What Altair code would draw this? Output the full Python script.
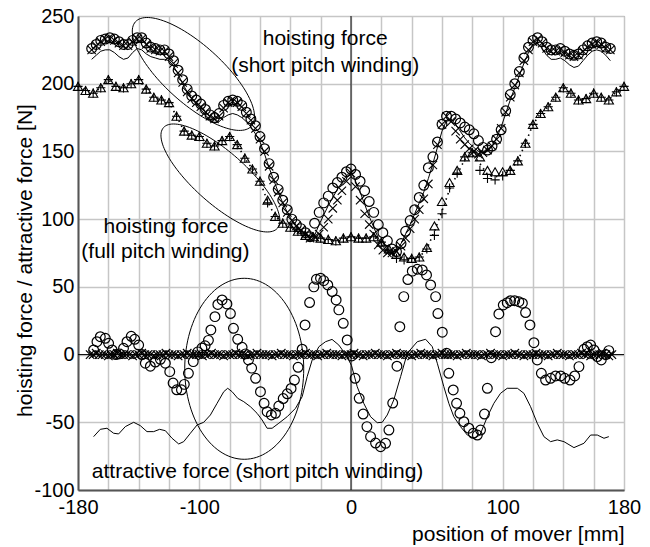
import altair as alt
import pandas as pd
import numpy as np

FONT = "Liberation Sans"

# ---------------- data ----------------
# hoisting force, short pitch winding (x = -171, -168, ..., 171)
SP_START, SP_STEP = -171, 3
SP_CIRCLE = [226,229,232,233,234,233,231,229,229,232,
             234,234,230,227,226,225,225,222,217,210,
             203,196,191,188,185,181,177,175,178,184,
             187,188,187,184,179,174,169,161,152,141,
             131,122,114,107,100,96,93,90,87,97,
             105,112,117,123,127,131,135,137,133,128,
             121,113,105,96,90,84,78,76,82,91,
             99,107,116,125,138,146,157,170,176,176,
             174,171,168,166,163,158,153,151,154,159,
             166,180,192,200,209,219,227,232,234,231,
             227,225,225,226,224,222,221,222,225,228,
             230,231,230,227,226]
SP_CROSS = [225,228,231,233,233,232,230,228,228,231,
            233,233,229,226,225,224,224,220,215,208,
            201,194,189,186,183,179,176,174,176,182,
            186,187,186,183,178,173,167,159,150,139,
            129,120,112,105,99,95,92,89,86,87,
            89,94,100,108,114,121,128,134,124,114,
            104,96,89,81,77,75,75,76,80,86,
            93,100,107,115,126,140,155,170,176,172,
            165,159,155,152,150,148,149,151,154,159,
            167,179,190,199,208,217,225,231,233,230,
            226,224,224,225,223,221,220,221,224,227,
            229,230,229,226,225]
SP_LINE = [218,221,224,225,225,223,220,218,219,223,
           226,225,222,220,219,218,218,217,213,207,
           200,194,189,185,181,177,173,171,172,175,
           177,178,177,175,172,168,163,157,148,138,
           129,120,112,105,99,94,91,88,86,88,
           96,103,110,116,122,127,132,135,128,120,
           111,102,94,86,80,76,75,77,82,89,
           96,104,112,120,130,141,153,165,173,174,
           170,165,160,156,153,150,149,150,154,160,
           168,178,188,197,206,215,223,229,230,226,
           221,218,218,219,217,214,212,213,217,221,
           224,225,224,221,217]

# hoisting force, full pitch winding (x = -180, -175, ..., 180)
FP_START, FP_STEP = -180, 5
FP_TRI = [198,195,193,197,203,198,197,200,203,196,
          190,188,186,176,165,162,161,156,154,158,
          161,155,145,137,128,114,102,97,94,91,
          88,87,86,85,84,86,87,86,86,87,
          83,78,74,72,71,72,79,95,113,127,
          136,146,149,146,136,135,135,136,143,156,
          170,178,183,190,197,193,188,189,193,190,
          188,194,198]
FP_PLUS = [198,195,193,197,203,198,197,200,203,196,
           190,188,186,176,165,162,161,156,154,158,
           161,155,145,137,128,112,102,97,94,91,
           88,87,86,85,84,86,87,86,86,87,
           83,77,71,70,71,72,78,88,104,123,
           134,146,149,136,130,129,132,136,143,156,
           170,178,183,190,197,193,188,189,193,190,
           188,194,198]
FP_DOT = [198,195,193,197,203,198,197,200,203,196,
          190,188,186,176,165,162,161,156,154,158,
          161,155,145,137,128,113,102,97,94,91,
          88,87,86,85,84,86,87,86,86,87,
          83,77,73,71,71,72,78,91,106,122,
          133,144,148,141,133,131,133,136,143,156,
          170,178,183,190,197,193,188,189,193,190,
          188,194,198]

# attractive force series
AT_CIRCLES = [(-169.7,3.4),(-167.5,9.5),(-165.3,13.2),(-162.0,12.0),(-159.8,8.3),(-157.5,3.4),
              (-155.0,0.0),(-152.5,0.5),(-150.0,4.6),(-147.7,9.5),(-144.9,13.5),(-142.6,11.3),
              (-140.0,7.0),(-137.8,0.0),(-135.6,-6.4),(-132.3,-8.6),(-129.0,-5.5),(-125.7,-3.5),
              (-122.4,-6.4),(-119.5,-12.6),(-117.3,-21.0),(-114.9,-26.0),(-111.8,-26.0),(-109.9,-22.0),
              (-107.2,-13.8),(-104.0,-5.2),(-101.0,2.0),(-98.3,4.8),(-96.2,6.5),(-94.0,10.5),
              (-92.4,18.2),(-89.7,28.0),(-87.8,37.0),(-85.0,40.3),(-81.8,37.4),(-79.5,30.3),
              (-77.5,19.4),(-74.7,11.3),(-71.8,5.4),(-69.6,0.5),(-67.6,-4.0),(-65.5,-10.0),
              (-62.9,-17.5),(-59.7,-27.4),(-57.3,-36.0),(-55.3,-42.2),(-52.5,-44.6),(-49.8,-43.4),
              (-47.6,-38.0),(-44.7,-32.5),(-42.0,-29.0),(-39.5,-25.0),(-37.3,-18.8),(-34.9,-9.4),
              (-32.2,4.0),(-30.3,21.9),(-27.3,38.4),(-24.5,50.0),(-22.8,55.6),(-20.1,56.4),
              (-18.0,54.6),(-15.3,51.4),(-12.4,46.5),(-9.8,40.3),(-8.0,33.0),(-5.1,23.1),
              (-2.5,10.8),(0.5,-1.0),(2.7,-17.5),(5.4,-32.3),(8.0,-43.9),(10.5,-53.2),
              (12.9,-60.6),(16.2,-65.3),(19.5,-68.0),(22.8,-65.5),(25.0,-55.7),(27.5,-35.8),
              (30.3,-8.6),(32.2,20.6),(34.8,42.8),(37.5,55.4),(40.4,61.6),(43.7,63.0),
              (47.0,62.5),(49.8,58.8),(52.5,51.4),(55.8,42.8),(57.3,30.3),(60.2,16.5),
              (63.0,1.0),(64.5,-13.8),(67.4,-26.1),(69.6,-36.0),(71.8,-43.4),(74.4,-49.6),
              (77.7,-54.4),(80.6,-58.1),(83.3,-59.4),(85.4,-55.7),(88.0,-43.9),(89.9,-24.9),
              (92.5,-2.3),(95.3,16.9),(97.5,30.0),(100.4,36.6),(103.0,38.3),(105.2,39.8),
              (107.9,39.8),(110.7,39.0),(113.0,37.9),(115.1,31.0),(118.0,21.9),(120.6,8.8),
              (122.8,-4.0),(125.5,-13.8),(128.3,-18.8),(131.6,-17.5),(134.9,-15.8),(138.2,-15.8),
              (140.9,-17.5),(144.4,-18.8),(147.5,-15.8),(150.3,-8.9),(153.6,3.9),(155.8,5.8),
              (158.0,7.0),(160.2,3.4),(162.4,-1.5),(165.0,-4.0),(168.0,0.0),(170.0,2.9)]
AT_LINE = [(-169.7,-60.6),(-165.3,-55.2),(-160.9,-54.4),(-156.5,-58.1),(-153.2,-58.6),(-148.8,-53.2),
           (-143.3,-50.0),(-138.9,-52.5),(-134.5,-56.9),(-130.1,-56.9),(-126.2,-55.2),(-122.4,-56.2),
           (-118.0,-61.8),(-113.6,-66.0),(-110.3,-64.3),(-105.9,-58.1),(-101.5,-52.0),(-97.1,-50.0),
           (-92.7,-44.6),(-88.3,-36.0),(-83.9,-27.4),(-81.3,-24.9),(-78.4,-27.4),(-74.7,-32.3),
           (-70.7,-34.8),(-66.3,-38.5),(-61.9,-43.4),(-58.6,-48.3),(-55.3,-54.4),(-52.0,-54.4),
           (-47.6,-50.7),(-42.1,-45.9),(-36.6,-39.7),(-32.2,-31.1),(-28.9,-16.3),(-25.6,-4.0),
           (-21.2,5.8),(-16.8,9.5),(-12.5,11.2),(-8.0,7.0),(-4.8,2.0),(-2.5,-2.0),
           (0.3,-8.0),(4.1,-23.7),(8.4,-36.0),(12.9,-45.9),(17.3,-50.3),(20.6,-50.0),
           (23.9,-44.6),(28.2,-33.5),(32.7,-16.3),(37.1,1.0),(43.7,9.5),(49.2,11.3),
           (53.6,5.8),(56.9,-6.4),(61.2,-23.7),(64.5,-36.0),(67.8,-45.9),(72.2,-53.2),
           (76.7,-59.4),(81.0,-61.8),(85.0,-59.4),(89.9,-45.9),(94.2,-36.0),(98.6,-28.6),
           (103.0,-24.9),(109.7,-24.9),(114.0,-28.6),(118.4,-38.5),(122.8,-50.7),(127.2,-60.6),
           (131.6,-64.3),(136.0,-63.0),(140.4,-64.3),(147.0,-68.7),(153.6,-65.5),(158.0,-59.4),
           (162.4,-59.4),(166.8,-61.8),(170.0,-60.6)]
AT_X_START, AT_X_STEP = -172, 2
AT_CROSS = [0,0,1,0,0,0,-1,0,0,1, 0,0,0,0,-1,0,0,1,0,0, 0,-1,0,0,0,1,0,0,0,-1,
            0,0,1,0,0,0,0,-1,0,0, 1,0,0,0,-1,0,0,0,1,0, 0,0,-1,0,0,1,0,0,0,0,
            -1,0,0,1,0,0,0,-1,0,0, 0,1,0,0,0,-1,0,0,1,0, 0,0,0,-1,0,0,0,1,0,0,
            -1,0,0,0,1,0,0,0,-1,0, 0,1,0,0,0,0,-1,0,0,1, 0,0,0,-1,0,0,1,0,0,0,
            0,-1,0,0,1,0,0,0,0,-1, 0,0,1,0,0,0,-1,0,0,0, 1,0,0,-1,0,0,0,1,0,0,
            0,-1,0,0,1,0,0,0,-1,0, 0,0,1,0,0,-1,0,0,0,1, 0,-1,0]

# annotation texts
TXT_LABELS = ["hoisting force", "(short pitch winding)", "hoisting force",
              "(full pitch winding)", "attractive force (short pitch winding)"]
TXT_X = [-17, -17, -122, -122.4, -61.6]
TXT_Y = [228.7, 209, 89.6, 71, -91.4]

# ---------------- layout ----------------
W, H = 546, 474
X_DOM, Y_DOM = [-180, 180], [-100, 250]
XS = W / (X_DOM[1] - X_DOM[0])
YS = H / (Y_DOM[1] - Y_DOM[0])

# ellipses: center (data units), semi axes (px), rotation (deg)
ELLIPSES = [(-103.9, 207.2, 78, 29, 42), (-86.1, 130.4, 76, 26, 41.5), (-70.4, -10.5, 59.5, 90.5, 0)]

def grid_df(start, step, vals):
    return pd.DataFrame({"x": [start + step * i for i in range(len(vals))], "y": vals})

ell_rows = []
for k, (cx, cy, a, b, ang) in enumerate(ELLIPSES):
    th = np.radians(ang)
    for i, t in enumerate(np.linspace(0, 2 * np.pi, 121)):
        dx = a * np.cos(t) * np.cos(th) - b * np.sin(t) * np.sin(th)
        dy = a * np.cos(t) * np.sin(th) + b * np.sin(t) * np.cos(th)
        ell_rows.append({"e": k, "i": i, "x": cx + dx / XS, "y": cy - dy / YS})
ell_df = pd.DataFrame(ell_rows)

XAXIS = alt.Axis(
    title="position of mover [mm]", values=list(range(-180, 181, 20)),
    labelExpr="indexof([-180,-100,0,100,180], datum.value) >= 0 ? '' + datum.value : ''",
    labelFontSize=20, labelColor="black", labelPadding=7, labelFlush=False, labelOverlap=False,
    ticks=False, grid=True, gridColor="#c6c6c6", gridWidth=1.5,
    domainColor="#555555", domainWidth=2,
    titleFontSize=21, titleFontWeight="normal", titleColor="black",
    titleAlign="right", titleAnchor="end", titleX=W, titleY=50, titleBaseline="alphabetic")
YAXIS = alt.Axis(
    title="hoisting force / attractive force [N]", values=list(range(-100, 251, 50)),
    labelExpr="'' + datum.value", labelFontSize=20, labelColor="black", labelPadding=4,
    labelFlush=False, labelOverlap=False,
    ticks=False, grid=True, gridColor="#c6c6c6", gridWidth=1.5,
    domainColor="#555555", domainWidth=2,
    titleFontSize=21, titleFontWeight="normal", titleColor="black",
    titleAlign="center", titleAngle=270, titleX=-47, titleY=244, titleBaseline="alphabetic")

def X():
    return alt.X("x:Q", scale=alt.Scale(domain=X_DOM, nice=False, zero=False), axis=XAXIS)

def Y():
    return alt.Y("y:Q", scale=alt.Scale(domain=Y_DOM, nice=False, zero=False), axis=YAXIS)

XPATH = "M -1 -1 L 1 1 M -1 1 L 1 -1"
PLUS = "M -1 0 L 1 0 M 0 -1 L 0 1"

def pts(df, shape, size, sw=1.0):
    return alt.Chart(df).mark_point(shape=shape, size=size, filled=False, color="black",
                                    strokeWidth=sw, opacity=1).encode(x=X(), y=Y())

def line(df, sw=1.0, dash=None, **kw):
    if dash:
        m = alt.Chart(df).mark_line(color="black", strokeWidth=sw, strokeDash=dash)
    else:
        m = alt.Chart(df).mark_line(color="black", strokeWidth=sw)
    return m.encode(x=X(), y=Y(), **kw)

zero_v = alt.Chart(pd.DataFrame({"x": [0]})).mark_rule(color="black", strokeWidth=1).encode(x=X())
zero_h = alt.Chart(pd.DataFrame({"y": [0]})).mark_rule(color="black", strokeWidth=1).encode(y=Y())

at_o = pd.DataFrame(AT_CIRCLES, columns=["x", "y"])
at_l = pd.DataFrame(AT_LINE, columns=["x", "y"])
txt_df = pd.DataFrame({"x": TXT_X, "y": TXT_Y, "t": TXT_LABELS})

layers = [
    zero_v, zero_h,
    line(grid_df(SP_START, SP_STEP, SP_LINE)),
    pts(grid_df(SP_START, SP_STEP, SP_CROSS), XPATH, 70, 1.1),
    pts(grid_df(SP_START, SP_STEP, SP_CIRCLE), "circle", 95, 1.2),
    line(grid_df(FP_START, FP_STEP, FP_DOT), sw=1.6, dash=[1.5, 4]),
    pts(grid_df(FP_START, FP_STEP, FP_PLUS), PLUS, 85, 1.1),
    pts(grid_df(FP_START, FP_STEP, FP_TRI), "triangle-up", 85, 1.1),
    line(at_l),
    pts(grid_df(AT_X_START, AT_X_STEP, AT_CROSS), XPATH, 72, 1.2),
    pts(at_o, "circle", 95, 1.2),
    alt.Chart(ell_df).mark_line(color="black", strokeWidth=1).encode(
        x=X(), y=Y(), detail="e:N", order="i:Q"),
    alt.Chart(txt_df).mark_text(font=FONT, fontSize=21, align="center", baseline="alphabetic",
                                color="black").encode(x=X(), y=Y(), text="t:N"),
]

chart = (alt.layer(*layers)
         .properties(width=W, height=H,
                     padding={"left": 78, "top": 16, "right": 26, "bottom": 57},
                     autosize=alt.AutoSizeParams(type="none"))
         .configure(font=FONT)
         .configure_view(stroke="#888888", strokeWidth=1))

chart.save("out.html", embed_options={"renderer": "svg", "actions": False})
